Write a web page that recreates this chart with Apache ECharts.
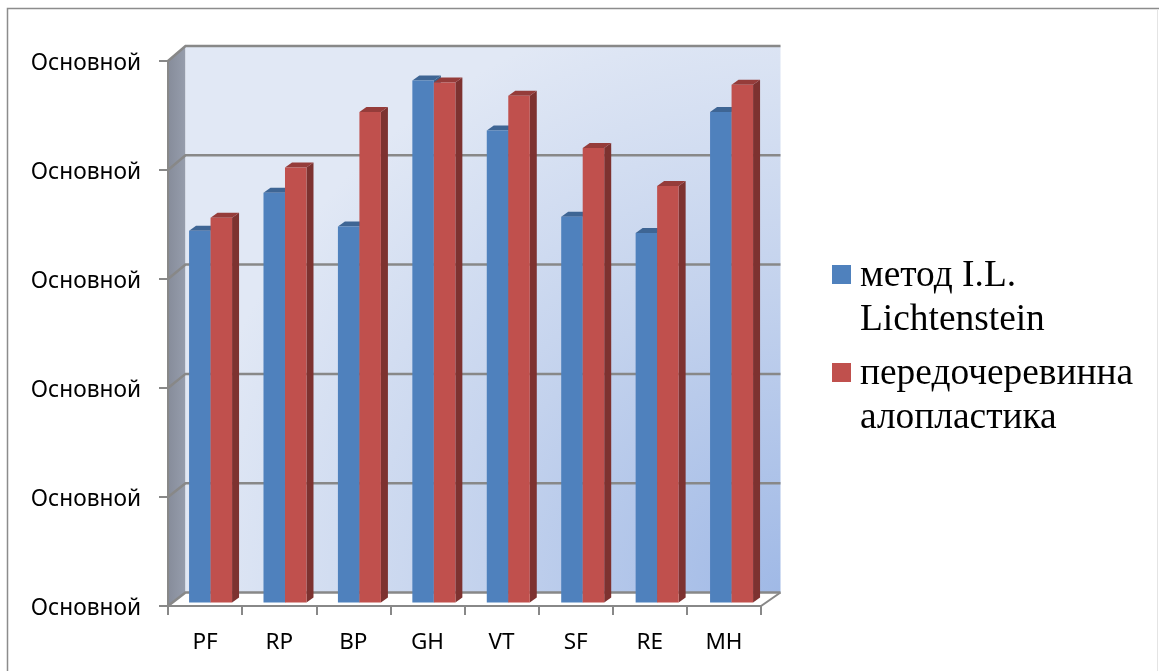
<!DOCTYPE html>
<html>
<head>
<meta charset="utf-8">
<style>html,body{margin:0;padding:0;background:#fff}#c{width:1159px;height:671px}</style>
<script src="https://cdn.jsdelivr.net/npm/echarts@6/dist/echarts.min.js"></script>
</head>
<body>
<div id="c"></div>
<script>
const categories = ['PF', 'RP', 'BP', 'GH', 'VT', 'SF', 'RE', 'MH'];
const lichtenstein = [3.41, 3.76, 3.45, 4.79, 4.33, 3.54, 3.39, 4.50];
const alloplasty = [3.53, 3.99, 4.50, 4.77, 4.65, 4.17, 3.82, 4.75];
const yTicks = [0, 1, 2, 3, 4, 5];
const yLabel = 'Основной';
const seriesNames = ['метод I.L.\nLichtenstein', 'передочеревинна\nалопластика'];

// Depth of the box and of the bars, in pixels
const WALL_DX_LEFT = 17.5, WALL_DX_RIGHT = 19.5;
const WALL_DY_TOP = -15, WALL_DY_BOTTOM = -13.5;
const BAR_DX = 5.5, BAR_DY = -3.5, BAR_SPREAD = 0.0041;
const BAR_W = 21.5, TOP_DX = 7, TOP_DY = -5;

const GRID = '#888888';

function renderBox(params, api) {
  const idx = params.dataIndex;
  const bottomLeft = api.coord([0, 0]);
  const band = api.size([1, 0])[0];
  const x0 = bottomLeft[0] - band / 2;
  const x1 = x0 + band * categories.length;
  const y0 = bottomLeft[1];
  const yTop = api.coord([0, 5])[1];
  const wallL = x0 + WALL_DX_LEFT, wallR = x1 + WALL_DX_RIGHT;
  const wallTop = yTop + WALL_DY_TOP, wallBottom = y0 + WALL_DY_BOTTOM;
  const children = [];
  if (idx === 0) {
    children.push({
      type: 'polygon',
      shape: { points: [[x0, yTop], [wallL, wallTop], [wallL, wallBottom], [x0, y0]] },
      style: { fill: { type: 'linear', x: 0, y: 0, x2: 1, y2: 0, colorStops: [
        { offset: 0, color: '#868c9a' }, { offset: 1, color: '#969dac' }] } }
    });
    children.push({
      type: 'rect',
      shape: { x: wallL, y: wallTop, width: wallR - wallL, height: wallBottom - wallTop },
      style: { fill: { type: 'radial', x: 1, y: 1, r: 1.1, colorStops: [
        { offset: 0, color: '#a0b9e6' }, { offset: 0.5, color: '#c3d2ed' }, { offset: 1, color: '#e1e8f5' }] } }
    });
    children.push({
      type: 'polyline',
      shape: { points: [[x0, y0], [x1, y0], [wallR, wallBottom]] },
      style: { fill: null, stroke: GRID, lineWidth: 2 }
    });
  }
  const v = api.value(0);
  const y = api.coord([0, v])[1];
  const yBack = wallBottom + (wallTop - wallBottom) * v / 5;
  children.push({
    type: 'polyline',
    shape: { points: [[x0, y], [wallL, yBack], [wallR, yBack]] },
    style: { fill: null, stroke: GRID, lineWidth: 2.5 }
  });
  return { type: 'group', children };
}

function renderBars(slot, front, side, top) {
  return function (params, api) {
    const band = api.size([1, 0])[0];
    const base = api.coord([api.value(0), 0]);
    const head = api.coord([api.value(0), api.value(1)]);
    const xl = base[0] + BAR_DX + api.value(0) * band * BAR_SPREAD + (slot - 1) * BAR_W;
    const xr = xl + BAR_W;
    const yb = base[1] + BAR_DY;
    const yt = head[1] + BAR_DY;
    return {
      type: 'group',
      children: [
        { type: 'polygon', shape: { points: [[xr, yt], [xr + TOP_DX, yt + TOP_DY], [xr + TOP_DX, yb + TOP_DY], [xr, yb]] }, style: { fill: side } },
        { type: 'polygon', shape: { points: [[xl, yt], [xl + TOP_DX, yt + TOP_DY], [xr + TOP_DX, yt + TOP_DY], [xr, yt]] }, style: { fill: top } },
        { type: 'rect', shape: { x: xl, y: yt, width: BAR_W, height: yb - yt }, style: { fill: front } }
      ]
    };
  };
}

function legendFor(name, top) {
  const parts = name.split('\n');
  const textFont = { fontFamily: 'Liberation Serif', fontSize: 37.4, lineHeight: 44, color: '#000' };
  return {
    data: [{ name, icon: 'rect' }],
    left: 832, top, orient: 'vertical', padding: 0,
    itemWidth: 19, itemHeight: 19, selectedMode: false,
    // the spacer line above the text keeps the swatch level with the first text line
    formatter: () => '{gap| }\n' + parts.map(p => '{t|' + p + '}').join('\n'),
    textStyle: {
      padding: [0, 0, 0, 4],
      rich: {
        gap: { fontSize: 10, lineHeight: 48, height: 48 },
        t: textFont
      }
    }
  };
}

const chart = echarts.init(document.getElementById('c'), null, { renderer: 'canvas' });
chart.setOption({
  animation: false,
  backgroundColor: '#fff',
  graphic: [
    { type: 'polyline', z: 0, shape: { points: [[7.5, 671], [7.5, 8.5], [1159, 8.5]] }, style: { fill: null, stroke: '#8c8c8c', lineWidth: 1.5 } },
    { type: 'line', z: 0, shape: { x1: 1157.5, y1: 9, x2: 1157.5, y2: 671 }, style: { stroke: '#e4e4e4', lineWidth: 1 } }
  ],
  grid: { left: 168, top: 61, width: 593, height: 545, containLabel: false },
  legend: [legendFor(seriesNames[0], 206.5), legendFor(seriesNames[1], 304.5)],
  xAxis: {
    type: 'category', data: categories, z: 3,
    axisLine: { lineStyle: { color: GRID, width: 2 } },
    axisTick: { show: true, length: 9, alignWithLabel: false, lineStyle: { color: GRID, width: 2 } },
    axisLabel: { margin: 25, fontFamily: 'Noto Sans', fontSize: 22.5, color: '#000' }
  },
  yAxis: {
    type: 'value', min: 0, max: 5, interval: 1, z: 3,
    splitLine: { show: false },
    axisLine: { show: true, lineStyle: { color: GRID, width: 2 } },
    axisTick: { show: true, length: 9, lineStyle: { color: GRID, width: 2 } },
    axisLabel: { margin: 27, verticalAlign: 'top', lineHeight: 6, fontFamily: 'Noto Sans', fontSize: 22.7, color: '#000', formatter: () => yLabel }
  },
  series: [
    {
      type: 'custom', z: 1, silent: true, coordinateSystem: 'cartesian2d', clip: false,
      data: yTicks.map(v => [v]),
      encode: { y: 0 },
      renderItem: renderBox
    },
    {
      name: seriesNames[0], type: 'custom', z: 4, clip: false,
      itemStyle: { color: '#4f81bd' },
      data: categories.map((c, i) => [i, lichtenstein[i]]),
      encode: { x: 0, y: 1 },
      renderItem: renderBars(0, '#4f81bd', '#3a6089', '#3e6594')
    },
    {
      name: seriesNames[1], type: 'custom', z: 5, clip: false,
      itemStyle: { color: '#c0504d' },
      data: categories.map((c, i) => [i, alloplasty[i]]),
      encode: { x: 0, y: 1 },
      renderItem: renderBars(1, '#c0504d', '#7d3230', '#953c3a')
    }
  ]
});
</script>
</body>
</html>
